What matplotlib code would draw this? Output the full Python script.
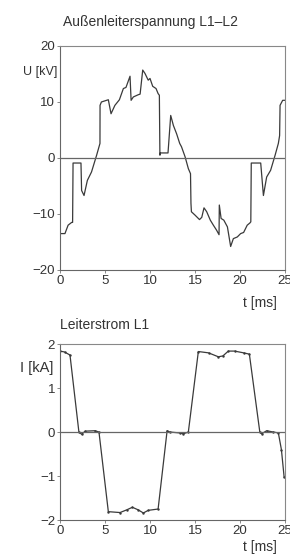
import matplotlib
matplotlib.use("Agg")
import matplotlib.pyplot as plt

plt.rcParams['font.family'] = ['Liberation Sans', 'DejaVu Sans']

# Voltage L1-L2 (kV) vs time (ms)
t_u = [0, 0.55, 0.9, 1.3, 1.4, 1.45, 2.33, 2.4, 2.67, 3.04, 3.5, 4.07, 4.44,
       4.45, 4.6, 5.37, 5.67, 6.1, 6.6, 7.04, 7.33, 7.78, 7.9, 8.15, 8.7, 8.9,
       9.19, 9.44, 9.8, 10.0, 10.3, 10.67, 10.9, 11.04, 11.1, 11.15, 12.0, 12.3,
       12.6, 12.96, 13.3, 13.5, 13.9, 14.26, 14.5, 14.55, 14.6, 15.0, 15.5, 15.75,
       16.0, 16.3, 16.7, 17.04, 17.4, 17.67, 17.7, 17.9, 18.2, 18.6, 18.96, 19.26,
       19.7, 20.07, 20.4, 20.8, 21.1, 21.2, 21.25, 22.3, 22.6, 22.96, 23.4, 23.9,
       24.26, 24.4, 24.45, 24.74, 25.0]
u_kv = [-13.5, -13.5, -12.0, -11.5, -11.5, -0.9, -0.9, -5.8, -6.7, -4.0, -2.5, 0.5, 2.6,
        9.4, 10.0, 10.4, 7.9, 9.4, 10.4, 12.4, 12.6, 14.6, 10.3, 10.9, 11.3, 11.4,
        15.7, 15.1, 13.9, 14.2, 12.8, 12.4, 11.5, 11.2, 0.5, 0.9, 0.9, 7.6,
        5.8, 4.3, 2.6, 2.0, 0.2, -1.9, -2.8, -8.1, -9.6, -10.2, -11.0, -10.6,
        -8.9, -9.6, -11.1, -12.0, -12.9, -13.7, -8.4, -10.8, -11.1, -12.3, -15.8, -14.4,
        -14.1, -13.5, -13.3, -12.0, -11.6, -11.4, -0.9, -0.9, -6.7, -3.4, -2.2, 0.5,
        2.6, 4.0, 9.4, 10.3, 10.3]

# Current L1 (kA) vs time (ms)
t_i = [0, 0.5, 1.11, 2.1, 2.4, 2.8, 3.9, 4.33, 5.37, 6.67, 7.4, 8.04, 8.7, 9.26,
       9.8, 10.9, 11.9, 12.2, 13.3, 13.7, 14.26, 15.37, 16.5, 17.6, 18.1, 18.7,
       19.4, 20.4, 21.04, 22.2, 22.4, 22.96, 23.7, 24.26, 24.6, 24.9]
i_ka = [1.84, 1.82, 1.75, 0.0, -0.05, 0.02, 0.03, 0.0, -1.81, -1.83, -1.77, -1.71, -1.77, -1.84,
        -1.78, -1.75, 0.03, 0.0, -0.02, -0.04, 0.0, 1.83, 1.8, 1.71, 1.73, 1.84,
        1.84, 1.8, 1.77, 0.0, -0.04, 0.03, 0.0, -0.02, -0.4, -1.02]

u_ticks = [-20, -10, 0, 10, 20]
i_ticks = [-2, -1, 0, 1, 2]
t_ticks = [0, 5, 10, 15, 20, 25]

line_c = '#3a3a3a'
text_c = '#333333'
spine_c = '#888888'

fig = plt.figure(figsize=(2.9, 5.56), dpi=100)

def style(ax):
    for s in ax.spines.values():
        s.set_color(spine_c)
        s.set_linewidth(0.8)
    ax.spines['left'].set_color('#666666')
    ax.spines['bottom'].set_color('#666666')
    ax.tick_params(axis='both', direction='out', length=2.5, width=0.7,
                   colors=spine_c, labelcolor=text_c, labelsize=9.5, pad=1)
    ax.set_xticks(t_ticks)
    ax.set_xlim(0, 25)

ax1 = fig.add_axes([0.2069, 0.5144, 0.7759, 0.4029])
ax1.plot(t_u, u_kv, color=line_c, lw=0.9)
ax1.axhline(0, color='#666666', lw=0.9)
ax1.set_ylim(-20, 20)
ax1.set_yticks(u_ticks)
style(ax1)
fig.text(0.52, 0.960, 'Außenleiterspannung L1–L2', ha='center', va='center',
         fontsize=10, color=text_c)
fig.text(0.078, 0.870, 'U [kV]', ha='left', va='center', fontsize=9, color=text_c)
fig.text(0.955, 0.455, 't [ms]', ha='right', va='center', fontsize=10, color=text_c)

ax2 = fig.add_axes([0.2069, 0.0647, 0.7759, 0.3165])
ax2.plot(t_i, i_ka, color=line_c, lw=0.9, marker='.', ms=1.5)
ax2.axhline(0, color='#666666', lw=0.9)
ax2.set_ylim(-2, 2)
ax2.set_yticks(i_ticks)
style(ax2)
fig.text(0.207, 0.415, 'Leiterstrom L1', ha='left', va='center',
         fontsize=10, color=text_c)
fig.text(0.07, 0.338, 'I [kA]', ha='left', va='center', fontsize=10.5, color=text_c)
fig.text(0.955, 0.016, 't [ms]', ha='right', va='center', fontsize=10, color=text_c)

fig.savefig('out.png', dpi=100, facecolor='white')
